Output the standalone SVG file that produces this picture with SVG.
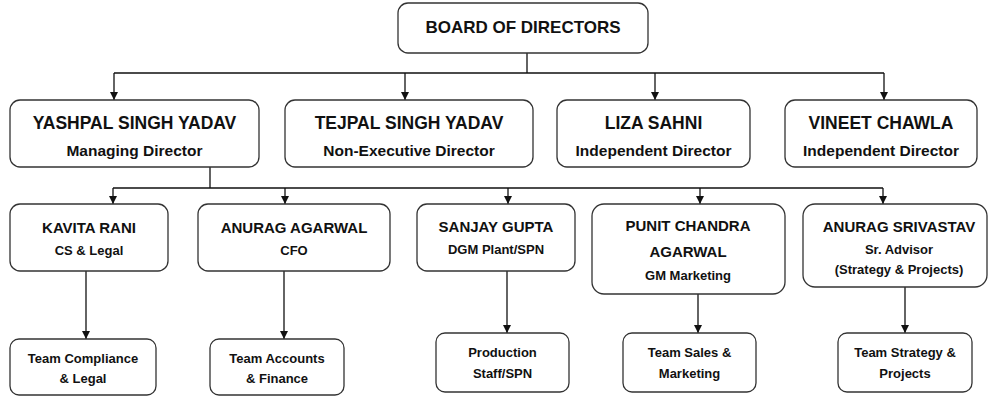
<svg xmlns="http://www.w3.org/2000/svg" width="989" height="396" viewBox="0 0 989 396">
<defs>
<marker id="ah" viewBox="0 0 8 8" refX="8" refY="4" markerWidth="8" markerHeight="8" markerUnits="userSpaceOnUse" orient="auto">
<path d="M0,0 L8,4 L0,8 z" fill="#111"/>
</marker>
<style>
.box{fill:#fff;stroke:#333;stroke-width:1.3}
.ln{fill:none;stroke:#111;stroke-width:1.3}
.ar{fill:none;stroke:#111;stroke-width:1.3;marker-end:url(#ah)}
text{font-family:"Liberation Sans",Arial,sans-serif;font-weight:bold;fill:#111;text-anchor:middle}
.t0{font-size:17px}
.t1{font-size:17.5px}
.s1{font-size:15.5px}
.t2{font-size:15px}
.s2{font-size:13px}
.t3{font-size:13px}
</style>
</defs>
<rect width="989" height="396" fill="#fff"/>
<g id="connectors">
<path class="ln" d="M527,53 V73 M114,73 H884"/>
<path class="ar" d="M114,73 V100"/>
<path class="ar" d="M405,73 V100"/>
<path class="ar" d="M655,73 V100"/>
<path class="ar" d="M884,73 V100"/>
<path class="ln" d="M210,167 V188 M113,188 H883"/>
<path class="ar" d="M113,188 V204"/>
<path class="ar" d="M285,188 V204"/>
<path class="ar" d="M508,188 V204"/>
<path class="ar" d="M700,188 V204"/>
<path class="ar" d="M883,188 V204"/>
<path class="ar" d="M86,271 V339"/>
<path class="ar" d="M284,271 V339"/>
<path class="ar" d="M507,271 V333"/>
<path class="ar" d="M698,294 V333"/>
<path class="ar" d="M905,287 V333"/>
</g>
<g id="board">
<rect class="box" x="398" y="3" width="250" height="50" rx="10"/>
<text class="t0" x="523" y="33">BOARD OF DIRECTORS</text>
</g>
<g id="yashpal">
<rect class="box" x="10" y="100" width="249" height="67" rx="10"/>
<text class="t1" x="134.5" y="129">YASHPAL SINGH YADAV</text>
<text class="s1" x="134.5" y="156">Managing Director</text>
</g>
<g id="tejpal">
<rect class="box" x="285" y="100" width="248" height="67" rx="10"/>
<text class="t1" x="409" y="129">TEJPAL SINGH YADAV</text>
<text class="s1" x="409" y="156">Non-Executive Director</text>
</g>
<g id="liza">
<rect class="box" x="557" y="100" width="193" height="67" rx="10"/>
<text class="t1" x="653.5" y="129">LIZA SAHNI</text>
<text class="s1" x="653.5" y="156">Independent Director</text>
</g>
<g id="vineet">
<rect class="box" x="785" y="100" width="192" height="67" rx="10"/>
<text class="t1" x="881" y="129">VINEET CHAWLA</text>
<text class="s1" x="881" y="156">Independent Director</text>
</g>
<g id="kavita">
<rect class="box" x="10" y="204" width="158" height="67" rx="10"/>
<text class="t2" x="89" y="233">KAVITA RANI</text>
<text class="s2" x="89" y="255">CS &amp; Legal</text>
</g>
<g id="anurag-agarwal">
<rect class="box" x="198" y="204" width="192" height="67" rx="10"/>
<text class="t2" x="294" y="233">ANURAG AGARWAL</text>
<text class="s2" x="294" y="255">CFO</text>
</g>
<g id="sanjay">
<rect class="box" x="417" y="204" width="158" height="67" rx="10"/>
<text class="t2" x="496" y="232">SANJAY GUPTA</text>
<text class="s2" x="496" y="254">DGM Plant/SPN</text>
</g>
<g id="punit">
<rect class="box" x="592" y="204" width="193" height="90" rx="12"/>
<text class="t2" x="688" y="231">PUNIT CHANDRA</text>
<text class="t2" x="688" y="257">AGARWAL</text>
<text class="s2" x="688" y="280">GM Marketing</text>
</g>
<g id="anurag-srivastav">
<rect class="box" x="803" y="204" width="184" height="83" rx="12"/>
<text class="t2" x="899" y="232">ANURAG SRIVASTAV</text>
<text class="s2" x="899" y="254">Sr. Advisor</text>
<text class="s2" x="899" y="274">(Strategy &amp; Projects)</text>
</g>
<g id="team-compliance">
<rect class="box" x="10" y="339" width="146" height="56" rx="9"/>
<text class="t3" x="83" y="363">Team Compliance</text>
<text class="t3" x="83" y="383">&amp; Legal</text>
</g>
<g id="team-accounts">
<rect class="box" x="210" y="339" width="134" height="56" rx="9"/>
<text class="t3" x="277" y="363">Team Accounts</text>
<text class="t3" x="277" y="383">&amp; Finance</text>
</g>
<g id="production">
<rect class="box" x="436" y="333" width="133" height="59" rx="9"/>
<text class="t3" x="502.5" y="357">Production</text>
<text class="t3" x="502.5" y="378">Staff/SPN</text>
</g>
<g id="team-sales">
<rect class="box" x="623" y="333" width="133" height="59" rx="9"/>
<text class="t3" x="689.5" y="357">Team Sales &amp;</text>
<text class="t3" x="689.5" y="378">Marketing</text>
</g>
<g id="team-strategy">
<rect class="box" x="838" y="333" width="134" height="59" rx="9"/>
<text class="t3" x="905" y="357">Team Strategy &amp;</text>
<text class="t3" x="905" y="378">Projects</text>
</g>
</svg>
